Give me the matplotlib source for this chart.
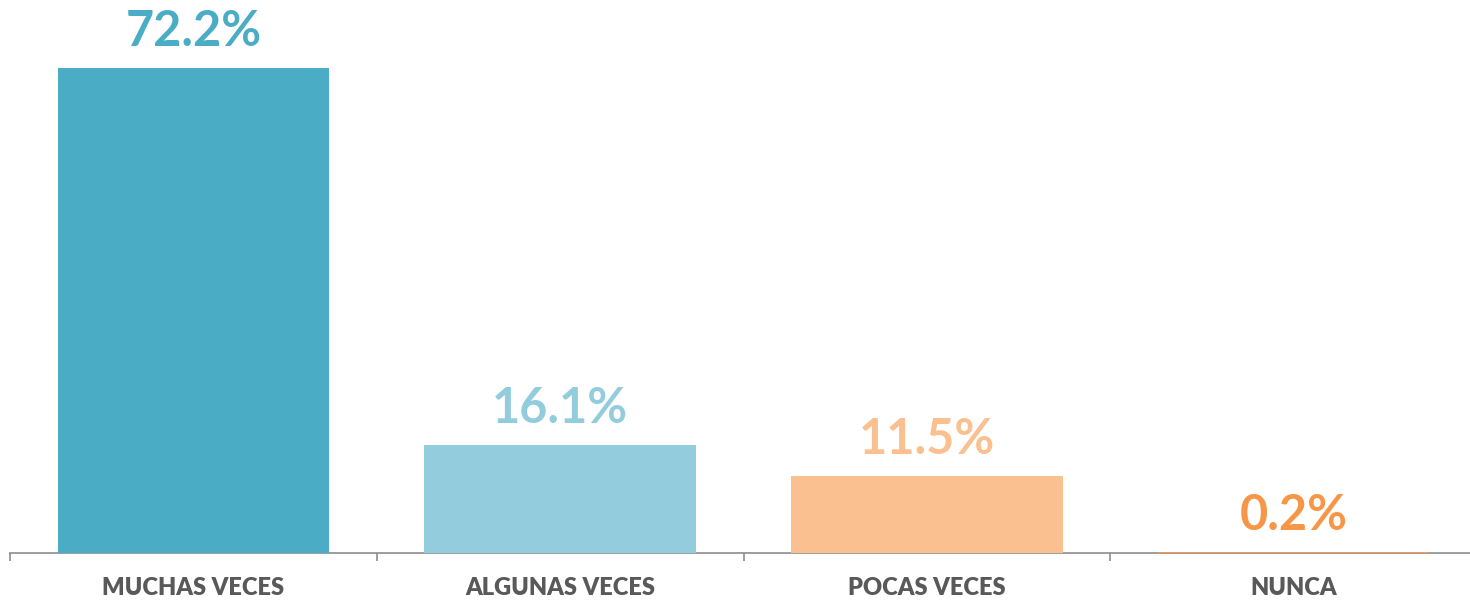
import matplotlib.pyplot as plt

categories = ["MUCHAS VECES", "ALGUNAS VECES", "POCAS VECES", "NUNCA"]
values = [72.2, 16.1, 11.5, 0.2]
labels = ["72.2%", "16.1%", "11.5%", "0.2%"]
colors = ["#4BACC6", "#93CDDD", "#FAC090", "#F79646"]

plt.rcParams['font.family'] = ['Lato', 'DejaVu Sans']

fig = plt.figure(figsize=(14.7, 6), dpi=100)
ax = fig.add_axes([10 / 1470, 47 / 600, 1467 / 1470, 553 / 600])

x = range(len(categories))
bars = ax.bar(x, values, width=0.74, color=colors, zorder=3)

for rect, lab, c in zip(bars, labels, colors):
    ax.annotate(lab, (rect.get_x() + rect.get_width() / 2, rect.get_height()),
                xytext=(0, 10), textcoords="offset points",
                ha="center", va="bottom", fontsize=35, fontweight="bold", color=c)

ax.set_xlim(-0.5, len(categories) - 0.5)
ax.set_ylim(0, 82.3)
ax.set_yticks([])
ax.set_xticks([i - 0.5 for i in range(len(categories) + 1)])
ax.set_xticklabels([])
ax.set_xticks(list(x), minor=True)
ax.set_xticklabels(categories, minor=True, fontsize=17, fontweight="heavy", color="#595959")
ax.tick_params(axis="x", which="major", length=6, width=1.2, color="#8C8C8C", direction="out")
ax.tick_params(axis="x", which="minor", length=0, pad=17)

for side in ["top", "right", "left"]:
    ax.spines[side].set_visible(False)
ax.spines["bottom"].set_color("#8C8C8C")
ax.spines["bottom"].set_linewidth(1.2)
ax.spines["bottom"].set_zorder(2)

fig.savefig("out.png", dpi=100)
